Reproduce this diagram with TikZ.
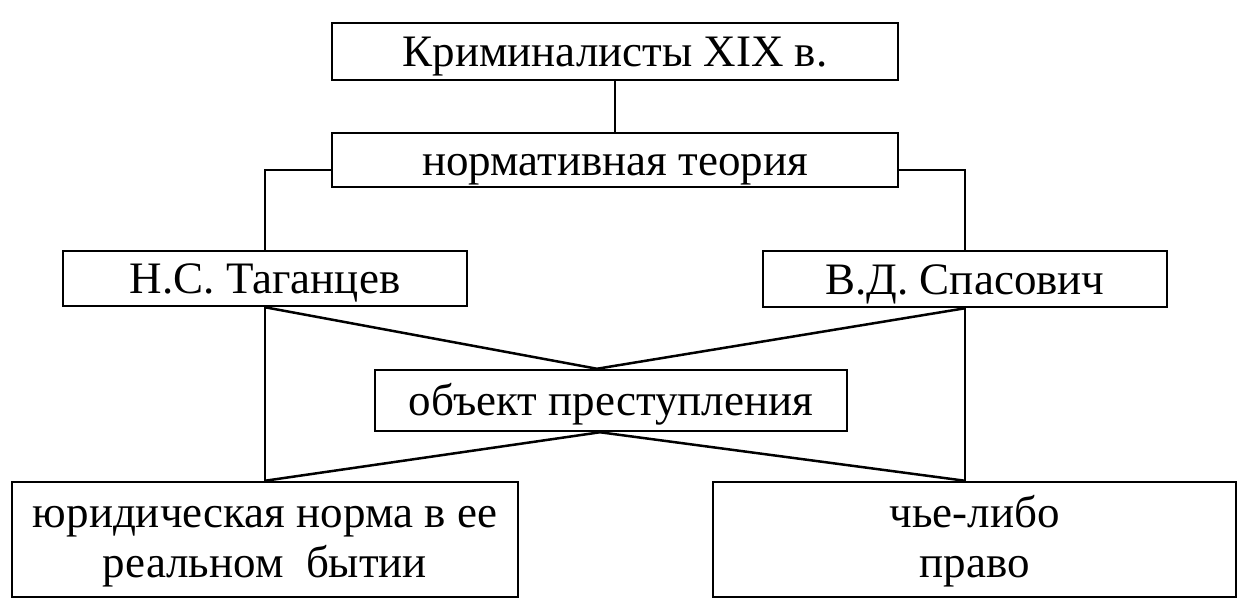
\documentclass[tikz,border=0pt]{standalone}
\usepackage{fontspec}
\setmainfont{Liberation Serif}
\begin{document}
\begin{tikzpicture}[x=1pt,y=-1pt,
  box/.style={draw,line width=2.5pt,rectangle,inner sep=0pt,align=center,
    font=\fontsize{45}{50}\selectfont,text height=34pt,text depth=4pt},
  twobox/.style={box,text height=80pt,text depth=4pt},
  conn/.style={line width=2.5pt}]
\useasboundingbox (0,0) rectangle (1250,614);
\node[box,minimum width=566,minimum height=57] (b1) at (615,51.5) {Криминалисты XIX в.};
\node[box,minimum width=566,minimum height=54] (b2) at (615,160) {нормативная теория};
\node[box,minimum width=404,minimum height=55] (b3) at (265,278.5) {Н.С. Таганцев};
\node[box,minimum width=404,minimum height=56] (b4) at (965,279) {В.Д. Спасович};
\node[box,minimum width=472,minimum height=61] (b5) at (611,400.5) {объект преступления};
\node[twobox,minimum width=506,minimum height=115] (b6) at (265,539.5) {юридическая норма в ее\\реальном~ бытии};
\node[twobox,minimum width=523,minimum height=115] (b7) at (974.5,539.5) {чье-либо\\право};
\coordinate (t) at ([xshift=-14pt]b5.north);
\coordinate (u) at ([xshift=-11pt]b5.south);
\coordinate (l6) at (b3.south |- b6.north);
\coordinate (r7) at (b4.south |- b7.north);
\draw[conn] (b1.south) -- (b2.north);
\draw[conn] ([yshift=-10pt]b2.west) -| (b3.north);
\draw[conn] ([yshift=-10pt]b2.east) -| (b4.north);
\draw[conn] (b3.south) -- (l6);
\draw[conn] (b4.south) -- (r7);
\draw[conn] (b3.south) -- (t) -- (b4.south);
\draw[conn] (l6) -- (u) -- (r7);
\end{tikzpicture}
\end{document}
